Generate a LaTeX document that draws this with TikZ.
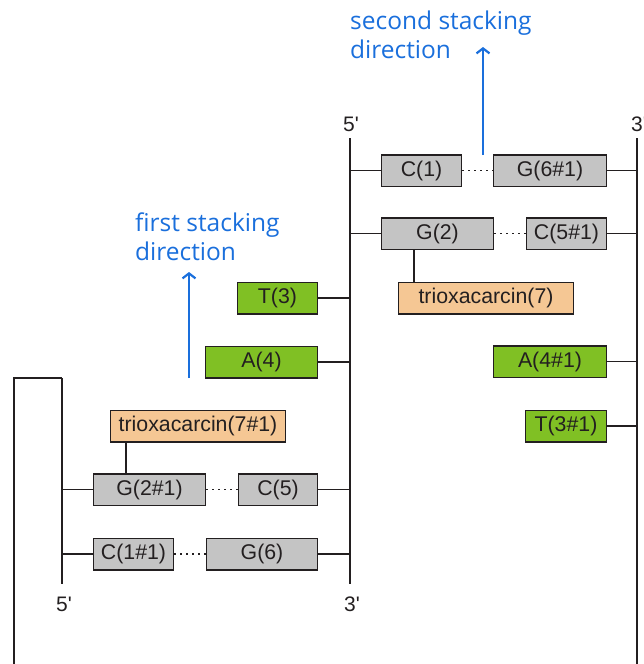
\documentclass[tikz,border=0pt]{standalone}
\usepackage{fontspec}
\setmainfont{Liberation Sans}[Ligatures=TeXOff]
\newfontfamily\bluefont{Open Sans}
\usetikzlibrary{arrows.meta}
\definecolor{boxgray}{HTML}{C4C4C4}
\definecolor{boxgreen}{HTML}{80C024}
\definecolor{boxorange}{HTML}{F5C794}
\definecolor{dirblue}{HTML}{1A6FDC}
\definecolor{ink}{HTML}{231F20}
\begin{document}
\begin{tikzpicture}[x=1pt,y=-1pt,
  basebox/.style={draw=ink, line width=1.5pt, minimum height=31.5pt, inner sep=0pt,
    font=\fontsize{21.3}{25}\selectfont, text=ink},
  gbox/.style={basebox, fill=boxgray},
  nbox/.style={basebox, fill=boxgreen},
  obox/.style={basebox, fill=boxorange},
  strand/.style={draw=ink, line width=2pt},
  link/.style={draw=ink, line width=1.5pt},
  pairing/.style={draw=ink, line width=1.5pt, dash pattern=on 1.5pt off 4.5pt},
  endlabel/.style={font=\fontsize{21}{25}\selectfont, text=ink, inner sep=0pt},
  dirlabel/.style={font=\bluefont\fontsize{24.5}{29}\selectfont, text=dirblue, align=left, inner sep=0pt},
  dirarrow/.style={draw=dirblue, line width=2.2pt, -{Straight Barb[length=5pt,width=13pt]}}
]
\useasboundingbox (0,0) rectangle (643,664);

% strand ends
\coordinate (Ltop) at (62,378);
\coordinate (Lbot) at (62,584);
\coordinate (Lcorner) at (14,378);
\coordinate (Lend) at (14,664);
\coordinate (Mtop) at (350,138);
\coordinate (Mbot) at (350,584);
\coordinate (Rtop) at (637,138);
\coordinate (Rbot) at (637,664);

\draw[strand] (Ltop) -- (Lbot);
\draw[strand] (Ltop) -- (Lcorner) -- (Lend);
\draw[strand] (Mtop) -- (Mbot);
\draw[strand] (Rtop) -- (Rbot);

% end labels
\node[endlabel] (m5) at (351,124) {5'};
\node[endlabel, anchor=west] (r3) at (631,124) {3'};
\node[endlabel] (l5) at (64,604) {5'};
\node[endlabel] (m3) at (352,604) {3'};

% boxes
\node[gbox, minimum width=80pt] (c1) at (421.5,170.5) {C(1)};
\node[gbox, minimum width=113pt] (g61) at (550,170.5) {G(6\#1)};
\node[gbox, minimum width=112pt] (g2) at (437.5,233.5) {G(2)};
\node[gbox, minimum width=80pt] (c51) at (566.5,233.5) {C(5\#1)};
\node[obox, minimum width=175pt] (tri7) at (486,298) {trioxacarcin(7)};
\node[nbox, minimum width=80pt] (t3) at (277.5,298) {T(3)};
\node[nbox, minimum width=112pt] (a4) at (261.5,362) {A(4)};
\node[nbox, minimum width=113pt] (a41) at (550,361.5) {A(4\#1)};
\node[nbox, minimum width=81pt] (t31) at (566,426) {T(3\#1)};
\node[obox, minimum width=175pt] (tri71) at (198,426) {trioxacarcin(7\#1)};
\node[gbox, minimum width=112pt] (g21) at (149.5,489.5) {G(2\#1)};
\node[gbox, minimum width=79pt] (c5) at (278,489.5) {C(5)};
\node[gbox, minimum width=80pt] (c11) at (133.5,554) {C(1\#1)};
\node[gbox, minimum width=111pt] (g6) at (262,554) {G(6)};

% backbone links
\draw[link] (c1.west) -- (c1.west -| Mtop);
\draw[link] (g61.east) -- (g61.east -| Rtop);
\draw[link] (g2.west) -- (g2.west -| Mtop);
\draw[link] (c51.east) -- (c51.east -| Rtop);
\draw[link] (t3.east) -- (t3.east -| Mtop);
\draw[link] (a4.east) -- (a4.east -| Mtop);
\draw[link] (a41.east) -- (a41.east -| Rtop);
\draw[link] (t31.east) -- (t31.east -| Rtop);
\draw[link] (g21.west) -- (g21.west -| Ltop);
\draw[link] (c5.east) -- (c5.east -| Mtop);
\draw[link] (c11.west) -- (c11.west -| Ltop);
\draw[link] (g6.east) -- (g6.east -| Mtop);

% drug links
\coordinate (d7x) at (414,0);
\coordinate (d71x) at (126,0);
\draw[link] (g2.south -| d7x) -- (tri7.north -| d7x);
\draw[link] (tri71.south -| d71x) -- (g21.north -| d71x);

% pairings
\draw[pairing] (c1.east) -- (g61.west);
\draw[pairing] (g2.east) -- (c51.west);
\draw[pairing] (g21.east) -- (c5.west);
\draw[pairing] (c11.east) -- (g6.west);

% stacking directions
\coordinate (s1tail) at (189,378);
\coordinate (s1head) at (189,272);
\coordinate (s2tail) at (483,155);
\coordinate (s2head) at (483,47);
\draw[dirarrow] (s1tail) -- (s1head);
\draw[dirarrow] (s2tail) -- (s2head);
\node[dirlabel, anchor=base west] (d1) at (135,260) {first stacking\\direction};
\node[dirlabel, anchor=base west] (d2) at (350,58) {second stacking\\direction};
\end{tikzpicture}
\end{document}
